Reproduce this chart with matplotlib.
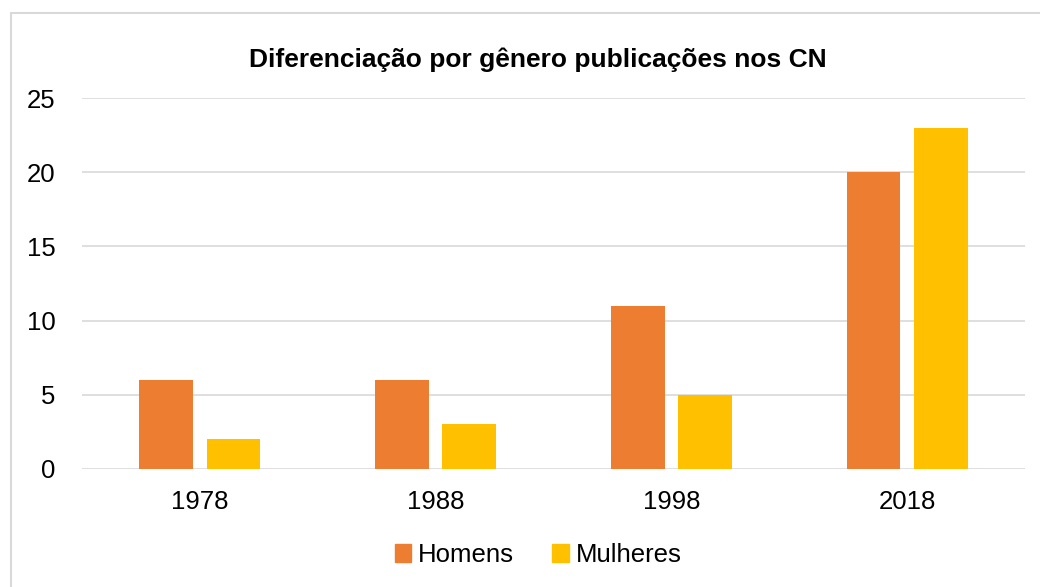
import matplotlib
matplotlib.use("Agg")
import matplotlib.pyplot as plt
from matplotlib.patches import Patch, Rectangle
import numpy as np

categories = ["1978", "1988", "1998", "2018"]
homens = [6, 6, 11, 20]
mulheres = [2, 3, 5, 23]
series_names = ["Homens", "Mulheres"]
title = "Diferenciação por gênero publicações nos CN"

plt.rcParams['font.family'] = ['Liberation Sans', 'DejaVu Sans']

fig = plt.figure(figsize=(10.4, 5.87), dpi=100)
ax = fig.add_axes([82/1040, 1-469/587, (1025-82)/1040, (469-98)/587])

x = np.arange(len(categories))
w = 0.228
off = 0.143
c1, c2 = "#ED7D31", "#FFC000"
ax.bar(x - off, homens, width=w, color=c1, zorder=3)
ax.bar(x + off, mulheres, width=w, color=c2, zorder=3)

ax.set_xlim(-0.5, 3.5)
ax.set_ylim(0, 25)
ax.set_yticks(range(0, 26, 5))
ax.set_xticks(x)
ax.set_xticklabels(categories)
ax.grid(axis='y', color='#D9D9D9', lw=1.2, zorder=0)
for s in ax.spines.values():
    s.set_visible(False)
ax.tick_params(axis='both', length=0, labelsize=18.5, colors='#000000')
ax.tick_params(axis='y', pad=19)
ax.tick_params(axis='x', pad=15)

fig.text(538/1040, 1-60/587, title, ha='center', va='center', fontsize=19, fontweight='bold')

handles = [Patch(color=c1), Patch(color=c2)]
fig.legend(handles, series_names, loc='center', bbox_to_anchor=(538/1040, 1-555/587),
           ncol=2, frameon=False, fontsize=18.5, handlelength=0.65, handleheight=0.65,
           handletextpad=0.25, columnspacing=1.5)

fig.patches.append(Rectangle((11/1040, -0.1), 1.2, 1-13/587+0.1, transform=fig.transFigure,
                             fill=False, edgecolor='#D9D9D9', lw=1.5, zorder=0))

fig.savefig("out.png", dpi=100)
